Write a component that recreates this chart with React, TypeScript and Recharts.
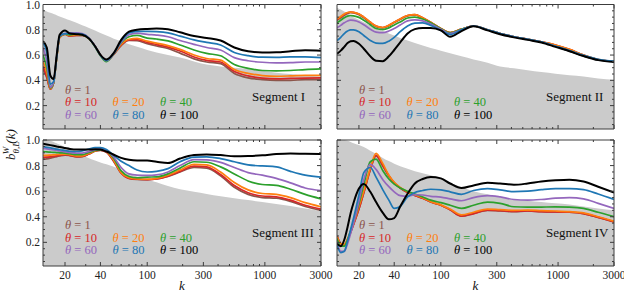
import React from "react";
import { ComposedChart, Line, Area, XAxis, YAxis } from "recharts";

// wavenumbers shared by every panel
const K = [13, 14, 15, 16, 17, 18, 20, 22, 25, 28, 32, 36, 40, 45, 52, 60, 70, 82, 100, 120, 150, 190, 250, 320, 420, 550, 720, 950, 1250, 1650, 2200, 3000];
const THETAS = [1, 10, 20, 40, 60, 80, 100];

// Segment I
const SEG1_BOUND = [0.96, 0.945, 0.935, 0.925, 0.915, 0.905, 0.89, 0.875, 0.855, 0.835, 0.815, 0.795, 0.775, 0.755, 0.73, 0.71, 0.685, 0.665, 0.64, 0.62, 0.6, 0.58, 0.55, 0.525, 0.51, 0.5, 0.49, 0.475, 0.46, 0.45, 0.44, 0.43];
const SEG1 = [
  [0.49, 0.42, 0.33, 0.38, 0.58, 0.74, 0.765, 0.75, 0.755, 0.755, 0.73, 0.67, 0.6, 0.555, 0.605, 0.675, 0.715, 0.713, 0.69, 0.672, 0.652, 0.615, 0.57, 0.545, 0.532, 0.455, 0.42, 0.406, 0.4, 0.4, 0.405, 0.405],
  [0.51, 0.43, 0.33, 0.38, 0.58, 0.74, 0.765, 0.75, 0.755, 0.755, 0.73, 0.67, 0.6, 0.556, 0.608, 0.68, 0.72, 0.722, 0.7, 0.683, 0.663, 0.632, 0.585, 0.558, 0.545, 0.47, 0.435, 0.418, 0.412, 0.415, 0.418, 0.42],
  [0.55, 0.46, 0.335, 0.38, 0.58, 0.74, 0.765, 0.755, 0.76, 0.76, 0.732, 0.67, 0.6, 0.555, 0.61, 0.685, 0.725, 0.732, 0.71, 0.695, 0.675, 0.645, 0.6, 0.573, 0.56, 0.485, 0.455, 0.438, 0.432, 0.435, 0.44, 0.44],
  [0.6, 0.5, 0.34, 0.38, 0.58, 0.745, 0.765, 0.76, 0.765, 0.76, 0.73, 0.665, 0.595, 0.548, 0.61, 0.695, 0.745, 0.755, 0.734, 0.727, 0.712, 0.68, 0.64, 0.613, 0.595, 0.525, 0.495, 0.478, 0.475, 0.478, 0.485, 0.49],
  [0.66, 0.55, 0.345, 0.385, 0.59, 0.75, 0.77, 0.775, 0.775, 0.77, 0.735, 0.67, 0.6, 0.555, 0.612, 0.7, 0.76, 0.773, 0.764, 0.758, 0.745, 0.715, 0.685, 0.66, 0.64, 0.58, 0.555, 0.543, 0.538, 0.54, 0.545, 0.545],
  [0.7, 0.62, 0.37, 0.39, 0.59, 0.75, 0.77, 0.77, 0.77, 0.765, 0.733, 0.67, 0.6, 0.557, 0.615, 0.71, 0.775, 0.788, 0.788, 0.785, 0.775, 0.75, 0.72, 0.7, 0.68, 0.62, 0.595, 0.583, 0.582, 0.585, 0.585, 0.58],
  [0.71, 0.66, 0.44, 0.41, 0.6, 0.76, 0.795, 0.77, 0.765, 0.76, 0.73, 0.67, 0.602, 0.565, 0.617, 0.72, 0.785, 0.8, 0.807, 0.81, 0.805, 0.78, 0.75, 0.735, 0.715, 0.66, 0.63, 0.62, 0.622, 0.63, 0.638, 0.635],
];

// Segment II
const SEG2_BOUND = [0.975, 0.96, 0.945, 0.93, 0.915, 0.9, 0.88, 0.86, 0.835, 0.81, 0.79, 0.77, 0.755, 0.735, 0.715, 0.695, 0.675, 0.655, 0.635, 0.615, 0.59, 0.565, 0.54, 0.51, 0.495, 0.48, 0.465, 0.452, 0.44, 0.43, 0.415, 0.405];
const SEG2 = [
  [0.875, 0.895, 0.915, 0.93, 0.935, 0.933, 0.92, 0.895, 0.855, 0.825, 0.815, 0.832, 0.857, 0.882, 0.91, 0.918, 0.893, 0.858, 0.808, 0.776, 0.805, 0.83, 0.8, 0.77, 0.745, 0.725, 0.705, 0.678, 0.643, 0.6, 0.565, 0.55],
  [0.88, 0.9, 0.92, 0.935, 0.94, 0.938, 0.925, 0.9, 0.86, 0.83, 0.818, 0.835, 0.86, 0.885, 0.913, 0.92, 0.895, 0.86, 0.81, 0.778, 0.805, 0.83, 0.8, 0.77, 0.745, 0.725, 0.705, 0.68, 0.645, 0.6, 0.565, 0.55],
  [0.885, 0.905, 0.925, 0.937, 0.94, 0.938, 0.925, 0.9, 0.86, 0.83, 0.818, 0.835, 0.86, 0.885, 0.913, 0.92, 0.895, 0.86, 0.81, 0.778, 0.805, 0.83, 0.8, 0.77, 0.745, 0.725, 0.705, 0.68, 0.645, 0.6, 0.565, 0.55],
  [0.855, 0.875, 0.895, 0.908, 0.913, 0.91, 0.898, 0.875, 0.84, 0.81, 0.802, 0.815, 0.838, 0.862, 0.893, 0.9, 0.885, 0.855, 0.808, 0.775, 0.803, 0.83, 0.8, 0.77, 0.745, 0.724, 0.703, 0.67, 0.632, 0.593, 0.563, 0.55],
  [0.815, 0.835, 0.855, 0.87, 0.876, 0.874, 0.862, 0.84, 0.805, 0.782, 0.777, 0.79, 0.81, 0.838, 0.87, 0.878, 0.87, 0.845, 0.805, 0.77, 0.8, 0.83, 0.8, 0.77, 0.745, 0.724, 0.703, 0.67, 0.632, 0.593, 0.563, 0.55],
  [0.715, 0.74, 0.77, 0.79, 0.8, 0.8, 0.785, 0.755, 0.715, 0.695, 0.692, 0.71, 0.74, 0.785, 0.83, 0.853, 0.855, 0.835, 0.795, 0.762, 0.8, 0.83, 0.8, 0.77, 0.745, 0.725, 0.705, 0.67, 0.635, 0.597, 0.567, 0.552],
  [0.61, 0.635, 0.665, 0.695, 0.71, 0.712, 0.69, 0.65, 0.59, 0.555, 0.552, 0.59, 0.64, 0.7, 0.77, 0.805, 0.815, 0.815, 0.795, 0.745, 0.79, 0.828, 0.795, 0.765, 0.74, 0.72, 0.7, 0.665, 0.63, 0.592, 0.56, 0.545],
];

// Segment III
const SEG3_BOUND = [1.0, 1.0, 0.995, 0.985, 0.975, 0.965, 0.945, 0.925, 0.9, 0.878, 0.858, 0.84, 0.825, 0.81, 0.79, 0.765, 0.735, 0.715, 0.69, 0.67, 0.64, 0.615, 0.595, 0.578, 0.56, 0.545, 0.53, 0.515, 0.5, 0.485, 0.465, 0.445];
const SEG3 = [
  [0.85, 0.853, 0.858, 0.864, 0.87, 0.875, 0.882, 0.878, 0.868, 0.87, 0.89, 0.912, 0.918, 0.905, 0.83, 0.74, 0.7, 0.692, 0.69, 0.695, 0.715, 0.75, 0.785, 0.78, 0.72, 0.63, 0.575, 0.55, 0.545, 0.52, 0.48, 0.45],
  [0.865, 0.866, 0.868, 0.872, 0.876, 0.88, 0.885, 0.88, 0.87, 0.872, 0.892, 0.914, 0.92, 0.907, 0.835, 0.742, 0.7, 0.693, 0.69, 0.695, 0.718, 0.755, 0.795, 0.79, 0.73, 0.644, 0.588, 0.562, 0.556, 0.53, 0.49, 0.46],
  [0.88, 0.88, 0.882, 0.884, 0.886, 0.888, 0.89, 0.885, 0.875, 0.876, 0.895, 0.915, 0.922, 0.91, 0.84, 0.745, 0.705, 0.695, 0.693, 0.7, 0.725, 0.765, 0.81, 0.805, 0.75, 0.668, 0.61, 0.582, 0.575, 0.55, 0.51, 0.478],
  [0.91, 0.907, 0.905, 0.903, 0.902, 0.9, 0.898, 0.893, 0.885, 0.886, 0.902, 0.918, 0.925, 0.915, 0.855, 0.76, 0.715, 0.705, 0.71, 0.712, 0.735, 0.78, 0.83, 0.826, 0.79, 0.735, 0.68, 0.652, 0.645, 0.615, 0.575, 0.54],
  [0.935, 0.93, 0.926, 0.922, 0.918, 0.914, 0.908, 0.902, 0.897, 0.898, 0.91, 0.925, 0.93, 0.92, 0.865, 0.785, 0.735, 0.725, 0.723, 0.727, 0.75, 0.8, 0.847, 0.845, 0.825, 0.785, 0.745, 0.725, 0.7, 0.665, 0.625, 0.605],
  [0.948, 0.943, 0.938, 0.933, 0.928, 0.924, 0.918, 0.912, 0.91, 0.915, 0.93, 0.94, 0.94, 0.925, 0.88, 0.834, 0.8, 0.765, 0.75, 0.755, 0.776, 0.83, 0.866, 0.868, 0.855, 0.83, 0.805, 0.797, 0.79, 0.755, 0.725, 0.71],
  [0.97, 0.965, 0.96, 0.955, 0.95, 0.945, 0.937, 0.93, 0.925, 0.925, 0.925, 0.928, 0.925, 0.91, 0.885, 0.86, 0.845, 0.84, 0.84, 0.83, 0.82, 0.855, 0.882, 0.887, 0.882, 0.873, 0.875, 0.88, 0.89, 0.895, 0.892, 0.89],
];

// Segment IV
const SEG4_BOUND = [1.0, 1.0, 1.0, 0.995, 0.985, 0.975, 0.96, 0.945, 0.915, 0.89, 0.86, 0.835, 0.815, 0.795, 0.775, 0.755, 0.74, 0.725, 0.7, 0.665, 0.63, 0.6, 0.575, 0.55, 0.535, 0.525, 0.515, 0.505, 0.495, 0.48, 0.465, 0.45];
const SEG4 = [
  [0.25, 0.19, 0.18, 0.22, 0.28, 0.34, 0.46, 0.585, 0.765, 0.875, 0.795, 0.72, 0.665, 0.625, 0.59, 0.567, 0.545, 0.515, 0.49, 0.455, 0.405, 0.425, 0.45, 0.445, 0.44, 0.445, 0.44, 0.437, 0.435, 0.425, 0.395, 0.36],
  [0.25, 0.19, 0.18, 0.22, 0.28, 0.34, 0.46, 0.59, 0.77, 0.88, 0.8, 0.72, 0.665, 0.625, 0.59, 0.567, 0.545, 0.515, 0.49, 0.455, 0.405, 0.425, 0.452, 0.447, 0.442, 0.445, 0.44, 0.437, 0.435, 0.425, 0.395, 0.36],
  [0.245, 0.19, 0.185, 0.23, 0.29, 0.35, 0.48, 0.6, 0.78, 0.895, 0.815, 0.725, 0.67, 0.63, 0.595, 0.572, 0.548, 0.518, 0.493, 0.46, 0.415, 0.435, 0.46, 0.455, 0.45, 0.452, 0.448, 0.445, 0.44, 0.43, 0.4, 0.365],
  [0.23, 0.17, 0.17, 0.22, 0.29, 0.36, 0.5, 0.65, 0.83, 0.85, 0.76, 0.695, 0.655, 0.625, 0.6, 0.578, 0.555, 0.53, 0.51, 0.49, 0.465, 0.49, 0.515, 0.505, 0.478, 0.475, 0.476, 0.477, 0.475, 0.465, 0.435, 0.4],
  [0.2, 0.13, 0.13, 0.19, 0.27, 0.35, 0.52, 0.69, 0.81, 0.77, 0.69, 0.635, 0.595, 0.565, 0.56, 0.572, 0.57, 0.56, 0.553, 0.54, 0.525, 0.55, 0.565, 0.555, 0.535, 0.53, 0.535, 0.545, 0.55, 0.54, 0.505, 0.465],
  [0.18, 0.12, 0.13, 0.21, 0.3, 0.39, 0.57, 0.745, 0.785, 0.71, 0.61, 0.53, 0.465, 0.48, 0.555, 0.59, 0.605, 0.615, 0.61, 0.595, 0.575, 0.605, 0.62, 0.61, 0.597, 0.6, 0.612, 0.62, 0.62, 0.612, 0.578, 0.536],
  [0.19, 0.17, 0.22, 0.32, 0.43, 0.51, 0.62, 0.657, 0.595, 0.515, 0.43, 0.38, 0.39, 0.48, 0.58, 0.66, 0.695, 0.71, 0.7, 0.66, 0.625, 0.645, 0.665, 0.66, 0.65, 0.66, 0.675, 0.685, 0.69, 0.675, 0.635, 0.59],
];

const X_TICKS = [20, 30, 40, 50, 60, 70, 80, 90, 100, 200, 300, 400, 500, 600, 700, 800, 900, 1000, 2000, 3000];
const X_LABELS = [20, 40, 100, 300, 1000, 3000];
const Y_TICKS = [0.05, 0.1, 0.15, 0.2, 0.25, 0.3, 0.35, 0.4, 0.45, 0.5, 0.55, 0.6, 0.65, 0.7, 0.75, 0.8, 0.85, 0.9, 0.95, 1.0];

const COLORS = ["#8c564b", "#d62728", "#ff7f0e", "#2ca02c", "#9467bd", "#1f77b4", "#000000"];
const W = 624;
const H = 293;
const AX = 4; // thickness reserved for each axis strip
const FRAME = "#3c3c3c";
const FONT = "'Liberation Serif', 'DejaVu Serif', serif";

type Box = { left: number; top: number; right: number; bottom: number };

const isMajorY = (v: number) => Math.abs(v * 5 - Math.round(v * 5)) < 1e-6;

function Panel({ box, lines, bound, xLabels, yLabels }: { box: Box; lines: number[][]; bound: number[]; xLabels: boolean; yLabels: boolean }) {
  const data = K.map((k, i) => {
    const row: Record<string, number> = { k, bound: bound[i] };
    lines.forEach((arr, j) => {
      row["t" + THETAS[j]] = arr[i];
    });
    return row;
  });

  const xCommon = {
    dataKey: "k",
    type: "number" as const,
    scale: "log" as const,
    domain: [13, 3000],
    allowDataOverflow: true,
    ticks: X_TICKS,
    interval: 0 as const,
    height: AX,
    tickSize: 0,
    tickMargin: 0,
    tickLine: false,
    axisLine: { stroke: FRAME, strokeWidth: 1 },
  };
  const yCommon = {
    type: "number" as const,
    domain: [0.015, 1],
    allowDataOverflow: true,
    ticks: Y_TICKS,
    interval: 0 as const,
    width: AX,
    tickSize: 0,
    tickMargin: 0,
    tickLine: false,
    axisLine: { stroke: FRAME, strokeWidth: 1 },
  };

  return (
    <div style={{ position: "absolute", left: 0, top: 0 }}>
      <ComposedChart
        width={W}
        height={H}
        data={data}
        margin={{
          left: box.left - AX,
          top: box.top - AX,
          right: W - box.right - AX,
          bottom: H - box.bottom - AX,
        }}
      >
        <Area
          xAxisId="b"
          yAxisId="l"
          dataKey="bound"
          type="monotone"
          fill="#cbcbcb"
          fillOpacity={1}
          stroke="none"
          isAnimationActive={false}
          activeDot={false}
        />
        {THETAS.map((t, j) => (
          <Line
            key={t}
            xAxisId="b"
            yAxisId="l"
            dataKey={"t" + t}
            type="monotone"
            stroke={COLORS[j]}
            strokeWidth={j === 6 ? 2 : 1.7}
            dot={false}
            activeDot={false}
            isAnimationActive={false}
          />
        ))}
        <XAxis
          {...xCommon}
          xAxisId="b"
          tick={(p: any) => {
            const v = p.payload.value;
            const major = X_LABELS.includes(v);
            return (
              <g>
                <line x1={p.x} x2={p.x} y1={p.y} y2={p.y - (major ? 4 : 2)} stroke={FRAME} />
                {xLabels && major && (
                  <text x={p.x} y={p.y + 13} textAnchor="middle" fontFamily={FONT} fontSize={11.5} fill="#222">
                    {v}
                  </text>
                )}
              </g>
            );
          }}
        />
        <XAxis
          {...xCommon}
          xAxisId="t"
          orientation="top"
          tick={(p: any) => {
            const major = X_LABELS.includes(p.payload.value);
            return <line x1={p.x} x2={p.x} y1={p.y} y2={p.y + (major ? 4 : 2)} stroke={FRAME} />;
          }}
        />
        <YAxis
          {...yCommon}
          yAxisId="l"
          tick={(p: any) => {
            const v = p.payload.value;
            const major = isMajorY(v);
            return (
              <g>
                <line x1={p.x} x2={p.x + (major ? 4 : 2)} y1={p.y} y2={p.y} stroke={FRAME} />
                {yLabels && major && (
                  <text x={p.x - 3} y={p.y + 4} textAnchor="end" fontFamily={FONT} fontSize={11.5} fill="#222">
                    {v.toFixed(1)}
                  </text>
                )}
              </g>
            );
          }}
        />
        <YAxis
          {...yCommon}
          yAxisId="r"
          orientation="right"
          tick={(p: any) => {
            const major = isMajorY(p.payload.value);
            return <line x1={p.x} x2={p.x - (major ? 4 : 2)} y1={p.y} y2={p.y} stroke={FRAME} />;
          }}
        />
      </ComposedChart>
    </div>
  );
}

const PANELS: { name: string; box: Box; lines: number[][]; bound: number[]; xLabels: boolean; yLabels: boolean }[] = [
  { name: "Segment I", box: { left: 43, top: 4.5, right: 321, bottom: 129 }, lines: SEG1, bound: SEG1_BOUND, xLabels: false, yLabels: true },
  { name: "Segment II", box: { left: 337, top: 4.5, right: 614, bottom: 129 }, lines: SEG2, bound: SEG2_BOUND, xLabels: false, yLabels: false },
  { name: "Segment III", box: { left: 43, top: 140, right: 321, bottom: 266 }, lines: SEG3, bound: SEG3_BOUND, xLabels: true, yLabels: true },
  { name: "Segment IV", box: { left: 337, top: 140, right: 614, bottom: 266 }, lines: SEG4, bound: SEG4_BOUND, xLabels: true, yLabels: false },
];

// legend layout: [column, row] per theta
const LEGEND_SLOTS = [
  [0, 0],
  [0, 1],
  [1, 1],
  [2, 1],
  [0, 2],
  [1, 2],
  [2, 2],
];

function Overlay() {
  return (
    <svg width={W} height={H} style={{ position: "absolute", left: 0, top: 0, pointerEvents: "none" }}>
      {PANELS.map((p) => (
        <g key={p.name}>
          {THETAS.map((t, j) => (
            <text
              key={t}
              x={p.box.left + 22 + LEGEND_SLOTS[j][0] * 47.5}
              y={p.box.top + 89 + LEGEND_SLOTS[j][1] * 12.6}
              fontFamily={FONT}
              fontSize={12.5}
              fill={COLORS[j]}
            >
              <tspan fontStyle="italic">θ</tspan>
              {" = " + t}
            </text>
          ))}
          <text x={p.box.left + 209} y={p.box.top + 96.5} fontFamily={FONT} fontSize={13} fill="#111">
            {p.name}
          </text>
        </g>
      ))}
      <text x={182} y={290} textAnchor="middle" fontFamily={FONT} fontStyle="italic" fontSize={13} fill="#111">
        k
      </text>
      <text x={475.5} y={290} textAnchor="middle" fontFamily={FONT} fontStyle="italic" fontSize={13} fill="#111">
        k
      </text>
      <text transform="translate(15,160) rotate(-90)" fontFamily={FONT} fontStyle="italic" fontSize={13} fill="#111">
        b
        <tspan fontSize={9} dy={3.5}>θ,L</tspan>
        <tspan fontSize={9} dx={-12} dy={-10}>W</tspan>
        <tspan dx={3} dy={6.5}>(k)</tspan>
      </text>
    </svg>
  );
}

export default function App() {
  return (
    <div style={{ position: "absolute", left: 0, top: 0, width: W, height: H, background: "#fff" }}>
      {PANELS.map((p) => (
        <Panel key={p.name} box={p.box} lines={p.lines} bound={p.bound} xLabels={p.xLabels} yLabels={p.yLabels} />
      ))}
      <Overlay />
    </div>
  );
}
